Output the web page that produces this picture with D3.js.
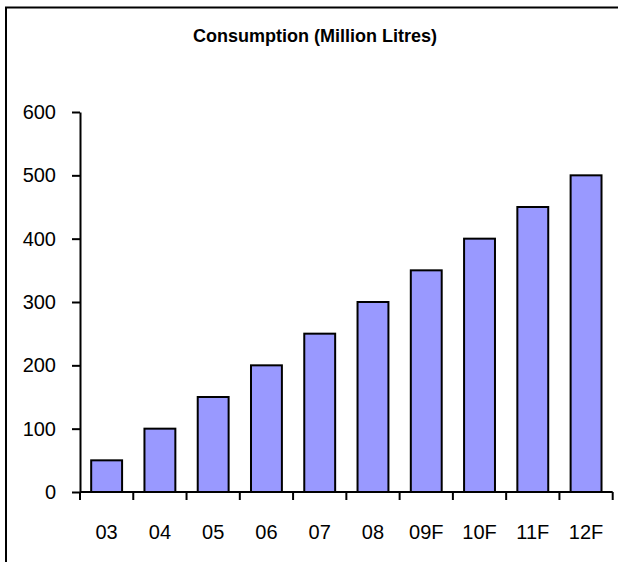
<!DOCTYPE html>
<meta charset="utf-8">
<style>
body { margin: 0; background: #fff; }
.axis text { font: 20px "Liberation Sans", Arial, sans-serif; fill: #000; }
.axis path, .axis line { stroke: #000; stroke-width: 2; }
</style>
<body>
<script src="https://cdnjs.cloudflare.com/ajax/libs/d3/7.8.5/d3.min.js"></script>
<script>

var years = ["03", "04", "05", "06", "07", "08", "09F", "10F", "11F", "12F"];
var consumption = [50, 100, 150, 200, 250, 300, 350, 400, 450, 500];
var yTicks = [0, 100, 200, 300, 400, 500, 600];

var W = 618, H = 562;
var margin = {top: 112, left: 80, right: 5.3, bottom: 70};
var width = W - margin.left - margin.right,
    height = 492 - margin.top;

var svg = d3.select("body").append("svg")
    .attr("width", W)
    .attr("height", H);

// outer frame (right/bottom fall outside the picture)
svg.append("rect")
    .attr("x", 6).attr("y", 7.5)
    .attr("width", W + 10).attr("height", H + 10)
    .attr("fill", "none")
    .attr("stroke", "#000")
    .attr("stroke-width", 2);

svg.append("text")
    .attr("x", 315)
    .attr("y", 42)
    .attr("text-anchor", "middle")
    .attr("textLength", 244)
    .attr("lengthAdjust", "spacingAndGlyphs")
    .style("font", "bold 19px 'Liberation Sans', Arial, sans-serif")
    .text("Consumption (Million Litres)");

var g = svg.append("g")
    .attr("transform", "translate(" + margin.left + "," + margin.top + ")");

var x = d3.scaleBand()
    .domain(years)
    .range([0, width])
    .paddingInner(0.42)
    .paddingOuter(0.21);

var y = d3.scaleLinear()
    .domain([0, 600])
    .range([height, 0]);

// y axis
g.append("g")
    .attr("class", "axis")
    .call(d3.axisLeft(y).tickValues(yTicks).tickSize(8).tickPadding(16).tickSizeOuter(0));

// bars
g.selectAll(".bar")
    .data(consumption)
  .enter().append("rect")
    .attr("class", "bar")
    .attr("x", function(d, i) { return x(years[i]); })
    .attr("y", function(d) { return y(d); })
    .attr("width", x.bandwidth())
    .attr("height", function(d) { return height - y(d); })
    .attr("fill", "#9999ff")
    .attr("stroke", "#000")
    .attr("stroke-width", 2);

// x axis: ticks between categories
var step = x.step();
var xAxis = g.append("g")
    .attr("class", "axis")
    .attr("transform", "translate(0," + height + ")");

xAxis.append("line")
    .attr("x1", 0).attr("x2", width)
    .attr("y1", 0).attr("y2", 0);

xAxis.selectAll(".tk")
    .data(d3.range(years.length + 1))
  .enter().append("line")
    .attr("class", "tk")
    .attr("x1", function(i) { return i * step; })
    .attr("x2", function(i) { return i * step; })
    .attr("y1", 0).attr("y2", 8);

xAxis.selectAll(".lbl")
    .data(years)
  .enter().append("text")
    .attr("class", "lbl")
    .attr("x", function(d) { return x(d) + x.bandwidth() / 2; })
    .attr("y", 47)
    .attr("text-anchor", "middle")
    .text(function(d) { return d; });

</script>
